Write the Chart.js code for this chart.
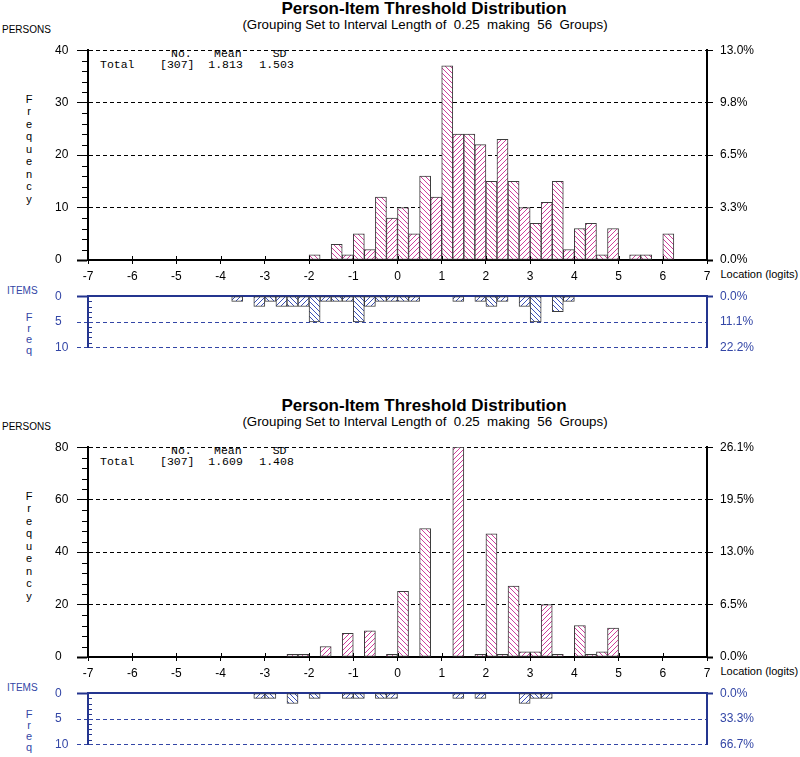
<!DOCTYPE html>
<html>
<head>
<meta charset="utf-8">
<script src="https://cdn.jsdelivr.net/npm/chart.js@4.4.1/dist/chart.umd.min.js"></script>
<style>
  body { margin: 0; background: #fff; width: 800px; height: 757px; position: relative; overflow: hidden; }
  .t { position: absolute; white-space: pre; }
  canvas { position: absolute; }
</style>
</head>
<body>
<script>
// bins are 0.25 logits wide, starting at -7 (56 groups)
const binStart = -7;
const binWidth = 0.25;
const xTicks = [-7, -6, -5, -4, -3, -2, -1, 0, 1, 2, 3, 4, 5, 6, 7];

// top plot
const personsTop = [
  0,0,0,0,0,0,0,0,0,0, 0,0,0,0,0,0,0,0,0,0,
  1,0,3,1,5,2,12,8,10,5, 16,12,37,24,24,22,15,23,15,10,
  7,11,15,2,6,7,1,6,0,1, 1,0,5,0,0,0
];
const itemsTop = [
  0,0,0,0,0,0,0,0,0,0, 0,0,0,1,0,2,1,2,2,2,
  5,1,1,1,5,2,1,1,1,1, 0,0,0,1,0,1,2,1,0,2,
  5,0,3,1,0,0,0,0,0,0, 0,0,0,0,0,0
];
const statsTop = ['[307]', '1.813', '1.503'];
const personTicksTop = [0, 10, 20, 30, 40];
const personPctTop = ['0.0%', '3.3%', '6.5%', '9.8%', '13.0%'];
const itemPctTop = ['0.0%', '11.1%', '22.2%'];

// bottom plot
const personsBottom = [
  0,0,0,0,0,0,0,0,0,0, 0,0,0,0,0,0,0,0,1,1,
  0,4,0,9,0,10,0,1,25,0, 49,0,0,80,0,1,47,1,27,2,
  2,20,1,0,12,1,2,11,0,0, 0,0,0,0,0,0
];
const itemsBottom = [
  0,0,0,0,0,0,0,0,0,0, 0,0,0,0,0,1,1,0,2,0,
  1,0,0,1,1,0,1,1,0,0, 0,0,0,1,0,1,0,0,0,2,
  1,1,0,0,0,0,0,0,0,0, 0,0,0,0,0,0
];
const statsBottom = ['[307]', '1.609', '1.408'];
const personTicksBottom = [0, 20, 40, 60, 80];
const personPctBottom = ['0.0%', '6.5%', '13.0%', '19.5%', '26.1%'];
const itemPctBottom = ['0.0%', '33.3%', '66.7%'];

const itemTicks = [0, 5, 10];

const SANS = '"Liberation Sans", Arial, sans-serif';
const MONO = '"Liberation Mono", "Courier New", monospace';
const BLUE = '#3346a6';
const NAVY = '#24358f';
const CLEAR = 'rgba(0,0,0,0)';

Chart.defaults.font.family = SANS;

function hatch(color, dir) {
  const n = 5;
  const c = document.createElement('canvas');
  c.width = c.height = n;
  const g = c.getContext('2d');
  g.fillStyle = '#fff';
  g.fillRect(0, 0, n, n);
  g.fillStyle = color;
  for (let i = 0; i < n; i++) g.fillRect(dir > 0 ? i : n - 1 - i, i, 1, 1);
  return g.createPattern(c, 'repeat');
}
const pinkA = hatch('#d0409c', 1), pinkB = hatch('#d0409c', -1);
const blueA = hatch('#3d52b8', 1), blueB = hatch('#3d52b8', -1);

function txt(s, x, base, size, o = {}) {
  const d = document.createElement('div');
  d.className = 't';
  d.textContent = s;
  d.style.font = (o.bold ? 'bold ' : '') + size + 'px ' + (o.mono ? MONO : SANS);
  d.style.lineHeight = size + 'px';
  d.style.top = (base - (o.mono ? 0.7665 : 0.8465) * size) + 'px';
  d.style.color = o.color || '#000';
  if (o.center) {
    d.style.left = (x - 300) + 'px';
    d.style.width = '600px';
    d.style.textAlign = 'center';
  } else {
    d.style.left = x + 'px';
  }
  document.body.appendChild(d);
}

function canvasAt(x, y, w, h) {
  const c = document.createElement('canvas');
  c.width = w; c.height = h;
  c.style.left = x + 'px'; c.style.top = y + 'px';
  document.body.appendChild(c);
  return c;
}

// minor ticks on the left axis + small stubs above the x axis
const decor = {
  id: 'decor',
  afterDraw(chart, args, o) {
    const ctx = chart.ctx, a = chart.chartArea;
    ctx.save();
    if (o.minor) {
      const s = chart.scales.y;
      ctx.strokeStyle = o.color;
      ctx.lineWidth = 1;
      for (let v = s.min; v <= s.max; v += o.minor) {
        if (v % o.major === 0) continue;
        const y = Math.round(s.getPixelForValue(v)) + 0.5;
        ctx.beginPath();
        ctx.moveTo(a.left + o.minorFrom, y);
        ctx.lineTo(a.left + o.minorTo, y);
        ctx.stroke();
      }
    }
    if (o.stubs) {
      const s = chart.scales.x;
      ctx.strokeStyle = '#000';
      ctx.lineWidth = 1;
      xTicks.forEach(v => {
        const x = Math.round(s.getPixelForValue(v)) + 0.5;
        ctx.beginPath();
        ctx.moveTo(x, a.bottom - o.stubs);
        ctx.lineTo(x, a.bottom);
        ctx.stroke();
      });
    }
    ctx.restore();
  }
};

function bars(values, a, b) {
  return {
    data: values.map((v, i) => ({ x: binStart + binWidth * (i + 0.5), y: v })),
    backgroundColor: values.map((v, i) => (i % 2 ? b : a)),
    borderColor: '#3c3c3c',
    borderWidth: 1,
    borderSkipped: false,
    categoryPercentage: 1,
    barPercentage: 1
  };
}

const isZero = c => c.tick && c.tick.value === 0;

function personsChart(canvas, values, ticks, pct, minor) {
  new Chart(canvas, {
    type: 'bar',
    data: { datasets: [bars(values, pinkA, pinkB)] },
    plugins: [decor],
    options: {
      responsive: false, animation: false, events: [],
      layout: { autoPadding: false, padding: { top: 6, left: 0, right: 0, bottom: 0 } },
      plugins: {
        legend: { display: false }, tooltip: { enabled: false },
        decor: { minor: minor, major: ticks[1], minorFrom: -6, minorTo: 0, color: '#000', stubs: 4 }
      },
      scales: {
        x: {
          type: 'linear', min: -7, max: 7, position: 'bottom', offset: false,
          afterBuildTicks: s => { s.ticks = xTicks.map(v => ({ value: v })); },
          ticks: { color: '#000', font: { size: 12 }, padding: 5, maxRotation: 0, autoSkip: false },
          grid: { offset: false, drawOnChartArea: false, tickLength: 4, tickColor: '#000' },
          border: { color: '#000', width: 2 },
          afterFit: s => { s.height = 28; }
        },
        y: {
          min: 0, max: ticks[ticks.length - 1],
          afterBuildTicks: s => { s.ticks = ticks.map(v => ({ value: v })); },
          ticks: { crossAlign: 'far', color: '#000', font: { size: 12 } },
          grid: {
            color: c => (isZero(c) ? CLEAR : '#000'), lineWidth: 1,
            tickLength: 11, tickColor: '#000', tickWidth: c => (isZero(c) ? 2 : 1), tickBorderDash: []
          },
          border: { color: '#000', width: 2, dash: [4, 3] },
          afterFit: s => { s.width = 33; }
        },
        y2: {
          position: 'right', min: 0, max: ticks[ticks.length - 1],
          afterBuildTicks: s => { s.ticks = ticks.map(v => ({ value: v })); },
          ticks: { color: '#000', font: { size: 12 }, padding: 7, callback: (v, i) => pct[i] },
          grid: { drawOnChartArea: false, tickLength: 6, tickColor: '#000', tickWidth: c => (isZero(c) ? 2 : 1) },
          border: { color: '#000', width: 2 },
          afterFit: s => { s.width = 93; }
        }
      }
    }
  });
}

function itemsChart(canvas, values, pct) {
  new Chart(canvas, {
    type: 'bar',
    data: { datasets: [bars(values, blueA, blueB)] },
    plugins: [decor],
    options: {
      responsive: false, animation: false, events: [],
      layout: { autoPadding: false, padding: { top: 10, left: 0, right: 0, bottom: 7 } },
      plugins: {
        legend: { display: false }, tooltip: { enabled: false },
        decor: { minor: 1, major: 5, minorFrom: 0, minorTo: 4, color: NAVY, stubs: 0 }
      },
      scales: {
        x: {
          type: 'linear', min: -7, max: 7, position: 'top', offset: false,
          ticks: { display: false },
          grid: { display: false, drawTicks: false, offset: false },
          border: { display: true, color: NAVY, width: 2 },
          afterFit: s => { s.height = 0; }
        },
        y: {
          min: 0, max: 10, reverse: true,
          afterBuildTicks: s => { s.ticks = itemTicks.map(v => ({ value: v })); },
          ticks: { crossAlign: 'far', color: BLUE, font: { size: 12 } },
          grid: {
            color: c => (isZero(c) ? CLEAR : BLUE), lineWidth: 1,
            tickLength: 11, tickColor: c => (isZero(c) ? NAVY : BLUE),
            tickWidth: c => (isZero(c) ? 2 : 1),
            tickBorderDash: c => (isZero(c) ? [] : [4, 3])
          },
          border: { color: NAVY, width: 2, dash: [4, 3] },
          afterFit: s => { s.width = 33; }
        },
        y2: {
          position: 'right', min: 0, max: 10, reverse: true,
          afterBuildTicks: s => { s.ticks = itemTicks.map(v => ({ value: v })); },
          ticks: { color: BLUE, font: { size: 12 }, padding: 7, callback: (v, i) => pct[i] },
          grid: { drawOnChartArea: false, tickLength: 6, tickColor: c => (isZero(c) ? NAVY : CLEAR), tickWidth: 2 },
          border: { color: NAVY, width: 2 },
          afterFit: s => { s.width = 93; }
        }
      }
    }
  });
}

function panel(T, persons, items, stats, ticks, pct, minor, itemPct) {
  txt('Person-Item Threshold Distribution', 424, T + 14.4, 17, { bold: true, center: true });
  txt('(Grouping Set to Interval Length of  0.25  making  56  Groups)', 425, T + 29.3, 13.3, { center: true });
  txt('PERSONS', 2, T + 33.5, 10);
  'Frequency'.split('').forEach((ch, i) => txt(ch, 29, T + 103 + i * 12.5, 11, { center: true }));
  txt('No.', 171, T + 56.5, 11.5, { mono: true });
  txt('Mean', 214, T + 56.5, 11.5, { mono: true });
  txt('SD', 272.7, T + 56.5, 11.5, { mono: true });
  txt('Total', 100, T + 68.3, 11.5, { mono: true });
  txt(stats[0], 160, T + 68.3, 11.5, { mono: true });
  txt(stats[1], 208.3, T + 68.3, 11.5, { mono: true });
  txt(stats[2], 259.3, T + 68.3, 11.5, { mono: true });
  txt('Location (logits)', 720.5, T + 278, 11);
  txt('ITEMS', 7, T + 294.3, 10, { color: BLUE });
  'Freq'.split('').forEach((ch, i) => txt(ch, 29, T + 321.5 + i * 10.8, 11, { center: true, color: BLUE }));

  personsChart(canvasAt(55, T + 36, 745, 252), persons, ticks, pct, minor);
  itemsChart(canvasAt(55, T + 282, 745, 80), items, itemPct);
}

panel(0, personsTop, itemsTop, statsTop, personTicksTop, personPctTop, 2, itemPctTop);
panel(397, personsBottom, itemsBottom, statsBottom, personTicksBottom, personPctBottom, 4, itemPctBottom);
</script>
</body>
</html>
